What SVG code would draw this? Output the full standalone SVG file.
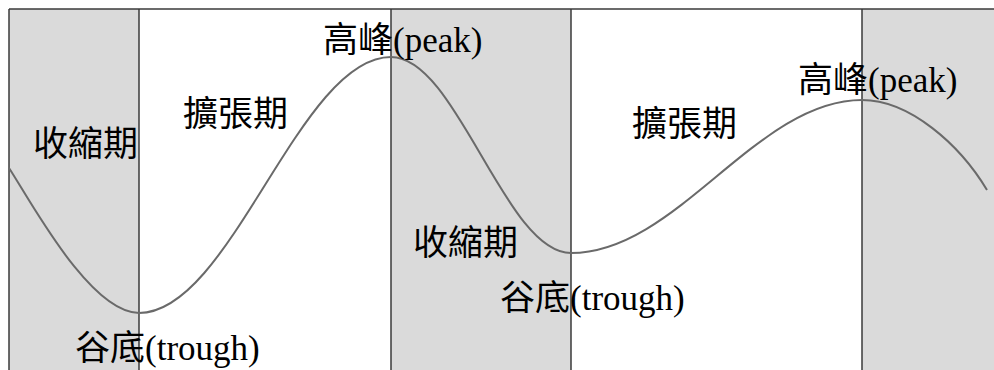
<svg xmlns="http://www.w3.org/2000/svg" width="994" height="370" viewBox="0 0 994 370">
<style>
.band{fill:#dadada;}
.rule{stroke:#3a3a3a;stroke-width:1.5;fill:none;}
.curve{stroke:#6a6a6a;stroke-width:2;fill:none;}
.lbl{font-family:"Liberation Serif","Noto Sans CJK TC",serif;font-size:35px;fill:#000;}
</style>
<rect x="0" y="0" width="994" height="370" fill="#ffffff"/>
<g id="bands">
<rect class="band" x="9" y="9" width="130" height="361"/>
<rect class="band" x="391" y="9" width="180" height="361"/>
<rect class="band" x="862" y="9" width="132" height="361"/>
</g>
<g id="frame">
<line class="rule" x1="9" y1="9" x2="994" y2="9"/>
<line class="rule" x1="9" y1="9" x2="9" y2="370"/>
<line class="rule" x1="139" y1="9" x2="139" y2="370"/>
<line class="rule" x1="391" y1="9" x2="391" y2="370"/>
<line class="rule" x1="571" y1="9" x2="571" y2="370"/>
<line class="rule" x1="862" y1="9" x2="862" y2="370"/>
</g>
<g id="connectors">
<path class="curve" d="M9,168 C30,200 90,313 139,313 C231,313 299,57 391,57 C457,57 505,253 571,253 C677,253 756,100 862,100 C910,100 960,145 987,190"/>
</g>
<g id="contraction-1"><text class="lbl" x="33" y="156">收縮期</text></g>
<g id="expansion-1"><text class="lbl" x="183" y="126">擴張期</text></g>
<g id="peak-1"><text class="lbl" x="323" y="52">高峰(peak)</text></g>
<g id="trough-1"><text class="lbl" x="75" y="360">谷底(trough)</text></g>
<g id="contraction-2"><text class="lbl" x="413" y="255">收縮期</text></g>
<g id="expansion-2"><text class="lbl" x="632" y="136">擴張期</text></g>
<g id="peak-2"><text class="lbl" x="798" y="92">高峰(peak)</text></g>
<g id="trough-2"><text class="lbl" x="500" y="310">谷底(trough)</text></g>
</svg>
